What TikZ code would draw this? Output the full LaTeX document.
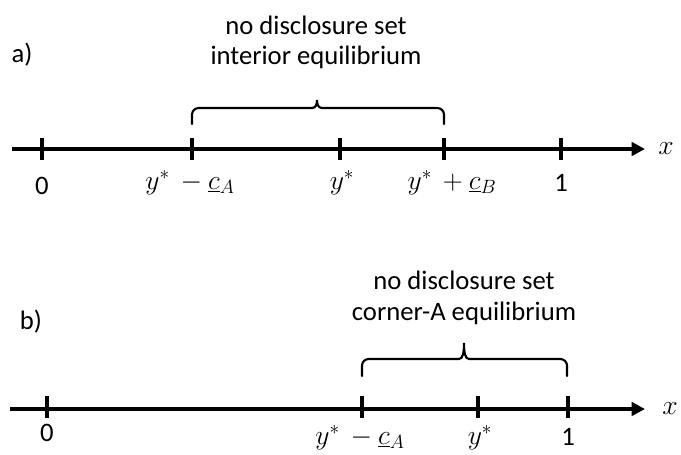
\documentclass[tikz,border=0pt]{standalone}
\usepackage{fontspec}
\setmainfont{Carlito}
\usetikzlibrary{arrows.meta}
\begin{document}
\begin{tikzpicture}[x=0.75pt,y=-0.75pt,
  every node/.style={inner sep=0pt,font=\fontsize{20}{24}\selectfont},
  axisline/.style={line width=3pt,-{Triangle[length=10pt,width=10pt]}},
  tickmark/.style={line width=2.3pt},
  bracepath/.style={line width=1.6pt,line cap=round}]
\useasboundingbox (0,0) rectangle (681,454);
% ---------- a) ----------
\node (la) at (22,55) {a)};
\node (ta1) at (316,25) {no disclosure set};
\node (ta2) at (316,57) {interior equilibrium};
\coordinate (a0) at (12,149);
\coordinate (a1) at (645,149);
\draw[axisline] (a0) -- (a1);
\node (xa) at (666,149) {$x$};
\foreach \px in {42,192,340,444,561}{
  \draw[tickmark] (\px,138) -- (\px,160);
}
\node (a-zero) at (42,186) {0};
\node (a-lo) at (190,183) {$y^{*}\,-\underline{c}_{A}$};
\node (a-ys) at (342,183) {$y^{*}$};
\node (a-hi) at (452,183) {$y^{*}\,+\underline{c}_{B}$};
\node (a-one) at (561,183) {1};
\draw[bracepath,rounded corners=5pt] (192,124) -- (192,108) -- (312,108);
\draw[bracepath] (312,108) .. controls (316,108) and (317,104) .. (317,100)
  .. controls (317,104) and (318,108) .. (322,108);
\draw[bracepath,rounded corners=5pt] (322,108) -- (444,108) -- (444,124);
% ---------- b) ----------
\node (lb) at (31,322) {b)};
\node (tb1) at (464,280) {no disclosure set};
\node (tb2) at (464,313) {corner-A equilibrium};
\coordinate (b0) at (10,409);
\coordinate (b1) at (645,409);
\draw[axisline] (b0) -- (b1);
\node (xb) at (670,409) {$x$};
\foreach \px in {47,362,478,568}{
  \draw[tickmark] (\px,396) -- (\px,418);
}
\node (b-zero) at (47,433) {0};
\node (b-lo) at (360,438) {$y^{*}\,-\underline{c}_{A}$};
\node (b-ys) at (480,438) {$y^{*}$};
\node (b-one) at (568,437) {1};
\draw[bracepath,rounded corners=5pt] (362,376) -- (362,359) -- (459,359);
\draw[bracepath] (459,359) .. controls (463,359) and (464,352) .. (464,343)
  .. controls (464,352) and (465,359) .. (469,359);
\draw[bracepath,rounded corners=5pt] (469,359) -- (567,359) -- (567,376);
\end{tikzpicture}
\end{document}
